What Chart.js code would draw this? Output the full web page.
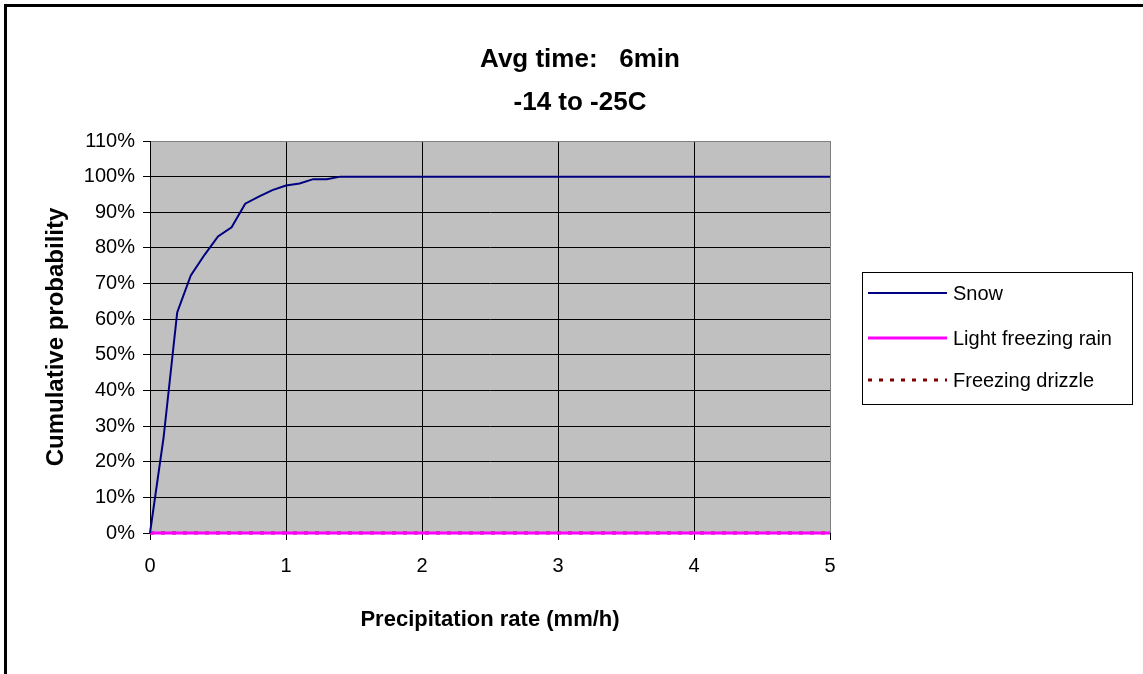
<!DOCTYPE html>
<html>
<head>
<meta charset="utf-8">
<script src="https://cdn.jsdelivr.net/npm/chart.js@4/dist/chart.umd.min.js"></script>
<style>
  html, body { margin: 0; padding: 0; background: #fff; }
  #wrap { width: 1143px; height: 674px; position: relative; }
</style>
</head>
<body>
<div id="wrap"><canvas id="chart"></canvas></div>
<script>
"use strict";

// podaci ocitani sa slike
const precipRate = [0, 0.1, 0.2, 0.3, 0.4, 0.5, 0.6, 0.7, 0.8, 0.9, 1.0, 1.1, 1.2, 1.3, 1.4, 5];
const snow = [0, 26.8, 61.9, 72.3, 78, 83.2, 85.8, 92.4, 94.4, 96.2, 97.5, 98.1, 99.3, 99.3, 100, 100];
const lightFreezingRain = [0, 0, 0, 0, 0, 0, 0, 0, 0, 0, 0, 0, 0, 0, 0, 0];
const freezingDrizzle = [0, 0, 0, 0, 0, 0, 0, 0, 0, 0, 0, 0, 0, 0, 0, 0];
const seriesNames = ['Snow', 'Light freezing rain', 'Freezing drizzle'];
const titleLines = ['Avg time:   6min', '-14 to -25C'];
const xTicks = [0, 1, 2, 3, 4, 5];
const yTicks = [0, 10, 20, 30, 40, 50, 60, 70, 80, 90, 100, 110];

const FONT = "'Liberation Sans', Arial, Helvetica, sans-serif";

function toPoints(xs, ys) {
    return xs.map((x, i) => ({ x: x, y: ys[i] }));
}

// siva pozadina, naslov, okvir i legenda
const decorPlugin = {
    id: 'decor',
    beforeDraw(chart) {
        const { ctx, chartArea: a } = chart;
        ctx.save();
        ctx.fillStyle = '#c0c0c0';
        ctx.fillRect(a.left, a.top, a.right - a.left, a.bottom - a.top);
        ctx.restore();
    },
    afterDraw(chart) {
        const ctx = chart.ctx;
        ctx.save();
        // vanjski okvir
        ctx.strokeStyle = '#000';
        ctx.lineWidth = 3;
        ctx.strokeRect(5.5, 5.5, 1143, 674);

        // naslov
        ctx.fillStyle = '#000';
        ctx.font = 'bold 26px ' + FONT;
        ctx.textAlign = 'center';
        ctx.textBaseline = 'middle';
        ctx.fillText(titleLines[0], 580, 60);
        ctx.fillText(titleLines[1], 580, 103);

        // legenda
        ctx.lineWidth = 1;
        ctx.strokeRect(862.5, 272.5, 270, 132);
        const rows = [293, 338, 380];
        chart.data.datasets.forEach((ds, i) => {
            const y = rows[i];
            ctx.beginPath();
            ctx.strokeStyle = ds.borderColor;
            ctx.lineWidth = ds.borderWidth;
            ctx.setLineDash(ds.borderDash || []);
            ctx.moveTo(868, y);
            ctx.lineTo(947, y);
            ctx.stroke();
            ctx.setLineDash([]);
            ctx.fillStyle = '#000';
            ctx.font = '20px ' + FONT;
            ctx.textBaseline = 'middle';
            ctx.textAlign = 'left';
            ctx.fillText(ds.label, 953, y + 1);
        });
        ctx.restore();
    }
};

const ctx = document.getElementById('chart').getContext('2d');
const chart = new Chart(ctx, {
    type: 'line',
    data: {
        datasets: [{
            label: seriesNames[0],
            data: toPoints(precipRate, snow),
            borderColor: '#000080',
            borderWidth: 2,
            pointRadius: 0,
            tension: 0,
            clip: 5
        }, {
            label: seriesNames[1],
            data: toPoints(precipRate, lightFreezingRain),
            borderColor: '#ff00ff',
            borderWidth: 3,
            pointRadius: 0,
            tension: 0,
            clip: 5
        }, {
            label: seriesNames[2],
            data: toPoints(precipRate, freezingDrizzle),
            borderColor: '#800000',
            borderWidth: 3,
            borderDash: [4, 7],
            pointRadius: 0,
            tension: 0,
            clip: 5
        }]
    },
    options: {
        responsive: true,
        maintainAspectRatio: false,
        animation: false,
        layout: { padding: { left: 0, right: 313, top: 141, bottom: 0 } },
        plugins: {
            legend: { display: false },
            tooltip: { enabled: false },
            title: { display: false }
        },
        scales: {
            x: {
                type: 'linear',
                min: 0,
                max: 5,
                afterFit(scale) { scale.height = 141; },
                afterBuildTicks(scale) { scale.ticks = xTicks.map(v => ({ value: v })); },
                ticks: {
                    color: '#000',
                    font: { family: FONT, size: 20 },
                    padding: 14,
                    maxRotation: 0
                },
                grid: {
                    color: c => (c.tick && c.tick.value === 5 ? '#808080' : '#000'),
                    lineWidth: 1,
                    tickLength: 7,
                    tickColor: '#000'
                },
                border: { color: '#000', width: 1 },
                title: {
                    display: true,
                    text: 'Precipitation rate (mm/h)',
                    color: '#000',
                    font: { family: FONT, size: 22, weight: 'bold' },
                    padding: { top: 0, bottom: 41 }
                }
            },
            y: {
                min: 0,
                max: 110,
                afterFit(scale) { scale.width = 150; },
                afterBuildTicks(scale) { scale.ticks = yTicks.map(v => ({ value: v })); },
                ticks: {
                    color: '#000',
                    font: { family: FONT, size: 20 },
                    padding: 8,
                    callback: v => v + '%'
                },
                grid: {
                    color: c => (c.tick && c.tick.value === 110 ? '#808080' : '#000'),
                    lineWidth: 1,
                    tickLength: 7,
                    tickColor: '#000'
                },
                border: { color: '#000', width: 1 },
                title: {
                    display: true,
                    text: 'Cumulative probability',
                    color: '#000',
                    font: { family: FONT, size: 24, weight: 'bold' },
                    padding: { top: 42, bottom: 0 }
                }
            }
        }
    },
    plugins: [decorPlugin]
});
</script>
</body>
</html>
